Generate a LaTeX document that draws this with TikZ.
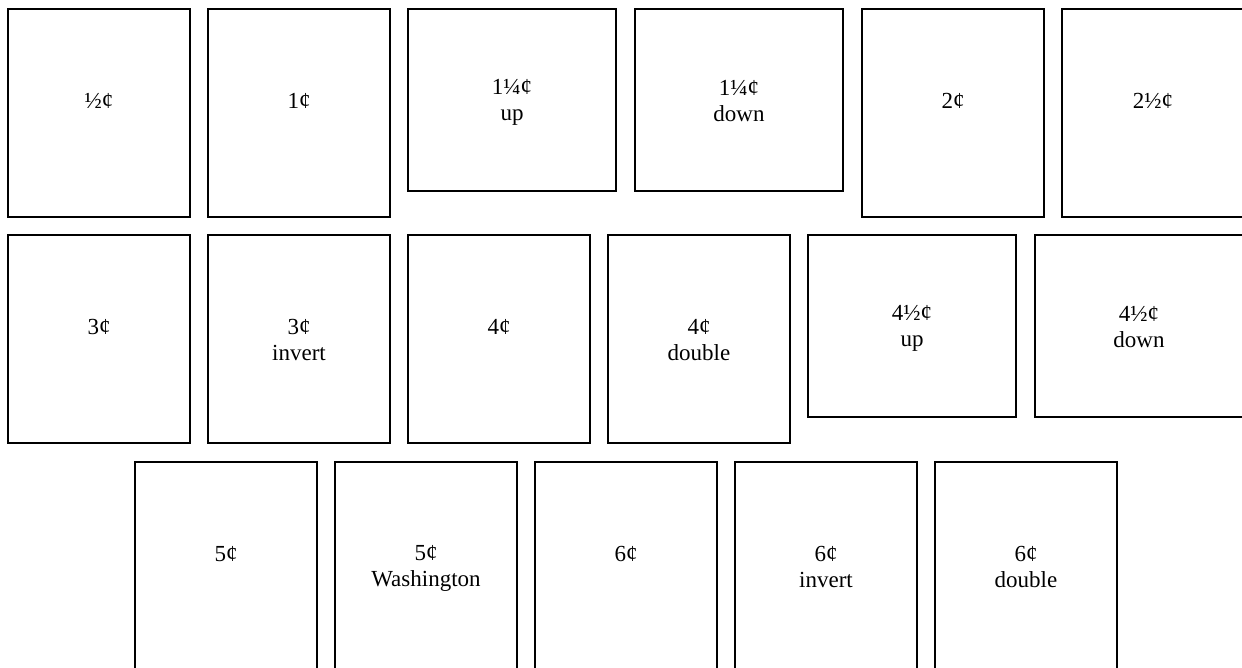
\documentclass[tikz,border=0pt]{standalone}
\usepackage{fontspec}
\setmainfont{Liberation Serif}
\newcommand{\stamplbl}[2]{\rule{0pt}{20pt}#1\\\rule[-4pt]{0pt}{4pt}#2}

\begin{document}
\begin{tikzpicture}[
    x=1pt, y=-1pt,
    font=\fontsize{23}{26}\selectfont,
    stamp/.style={rectangle, draw=black, line width=1.5pt, minimum width=182pt, minimum height=208pt, align=center, inner sep=0pt},
    wide/.style={stamp, minimum width=208pt, minimum height=182pt}
  ]
  \useasboundingbox (0,0) rectangle (1242,667);

  % first row
  \node[stamp] (half)  at (99, 113)  {\stamplbl{½¢}{}};
  \node[stamp] (one)   at (299, 113) {\stamplbl{1¢}{}};
  \node[wide]  (onequ) at (512, 100) {\stamplbl{1¼¢}{up}};
  \node[wide]  (oneqd) at (739, 100) {\stamplbl{1¼¢}{down}};
  \node[stamp] (two)   at (953, 113) {\stamplbl{2¢}{}};
  \node[stamp] (twoh)  at (1153, 113) {\stamplbl{2½¢}{}};

  % second row
  \node[stamp] (three)  at (99, 339)  {\stamplbl{3¢}{}};
  \node[stamp] (threei) at (299, 339) {\stamplbl{3¢}{invert}};
  \node[stamp] (four)   at (499, 339) {\stamplbl{4¢}{}};
  \node[stamp] (fourd)  at (699, 339) {\stamplbl{4¢}{double}};
  \node[wide]  (fourhu) at (912, 326) {\stamplbl{4½¢}{up}};
  \node[wide]  (fourhd) at (1139, 326) {\stamplbl{4½¢}{down}};

  % third row
  \node[stamp] (five)  at (226, 566)  {\stamplbl{5¢}{}};
  \node[stamp] (fivew) at (426, 566)  {\stamplbl{5¢}{Washington}};
  \node[stamp] (six)   at (626, 566)  {\stamplbl{6¢}{}};
  \node[stamp] (sixi)  at (826, 566)  {\stamplbl{6¢}{invert}};
  \node[stamp] (sixd)  at (1026, 566) {\stamplbl{6¢}{double}};
\end{tikzpicture}
\end{document}
